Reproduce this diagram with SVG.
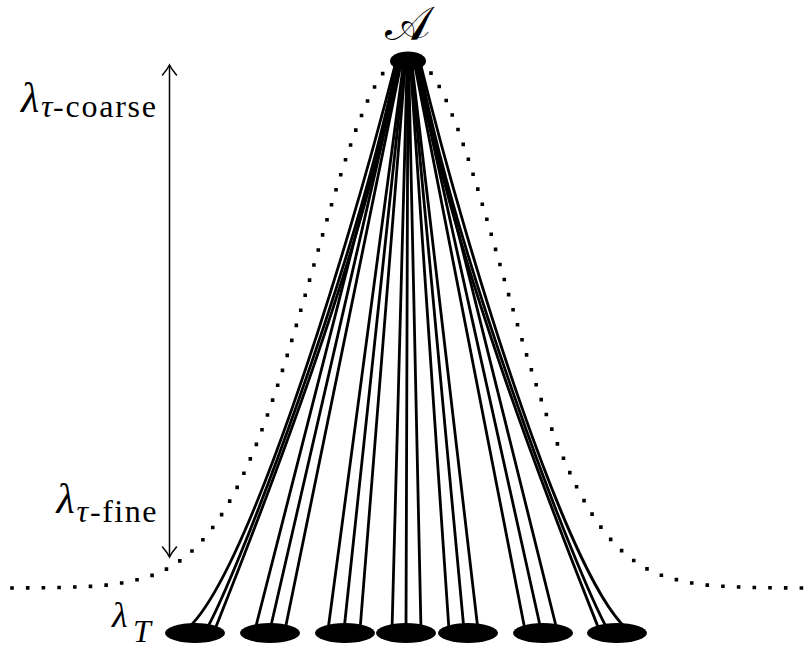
<svg xmlns="http://www.w3.org/2000/svg" width="812" height="652" viewBox="0 0 812 652">
  <style>
    .lbl { font-family: "Liberation Serif", "DejaVu Serif", serif; fill: #000; }
    .it { font-style: italic; }
    .edge { fill: none; stroke: #000; stroke-width: 2.8; stroke-linecap: round; }
    .node { fill: #000; }
    .dots { fill: none; stroke: #000; stroke-width: 3.6; stroke-dasharray: 0 15.7; stroke-linecap: square; }
    .dim { fill: none; stroke: #000; stroke-width: 1.5; }
  </style>
  <defs>
    <marker id="tip" markerUnits="userSpaceOnUse" orient="auto-start-reverse" refX="0" refY="0" markerWidth="20" markerHeight="20" overflow="visible">
      <path d="M-10,-7 C-6,-3.5 -2,-1 0,0 C-2,1 -6,3.5 -10,7" fill="none" stroke="#000" stroke-width="1.5" stroke-linecap="round"/>
    </marker>
  </defs>
  <rect width="812" height="652" fill="#fff"/>

  <g id="envelope">
    <polyline class="dots" points="12,588 57,587.55 87,586.6 107,585.1 127,582.3 147,577.3 157,573.6 167,568.9 177,563 187,555.5 197,546.4 207,535.2 217,521.9 227,506.1 237,487.7 247,466.7 257,442.9 267,416.4 277,387.4 287,356.2 297,323.2 307,289 317,254.3 327,219.8 337,186.5 347,155.1 357,126.7 367,102.1 377,82 387,67.2 397,58.1 407,55 417,58.1 427,67.2 437,82 447,102.1 457,126.7 467,155.1 477,186.5 487,219.8 497,254.3 507,289 517,323.2 527,356.2 537,387.4 547,416.4 557,442.9 567,466.7 577,487.7 587,506.1 597,521.9 607,535.2 617,546.4 627,555.5 637,563 647,568.9 657,573.6 667,577.3 687,582.3 707,585.1 727,586.6 757,587.55 802,588"/>
  </g>

  <g id="scale">
    <path class="dim" d="M169.5,557 L169.5,65" marker-start="url(#tip)" marker-end="url(#tip)"/>
    <text class="lbl it" x="21" y="112" font-size="42">λ</text>
    <text class="lbl it" x="41" y="117" font-size="32">τ</text>
    <text class="lbl" x="53" y="117" font-size="32" textLength="103" lengthAdjust="spacing">-coarse</text>
    <text class="lbl it" x="56.5" y="513" font-size="42">λ</text>
    <text class="lbl it" x="76.5" y="521.5" font-size="32">τ</text>
    <text class="lbl" x="90" y="521.5" font-size="32" textLength="66.5" lengthAdjust="spacing">-fine</text>
  </g>

  <g id="connectors">
    <path class="edge" d="M395.6,63 C345,262 242,593 182,633"/>
    <path class="edge" d="M396.8,63 C357,262 238,575 205,632"/>
    <path class="edge" d="M397.3,63 C364,262 240,565 214,632"/>
    <path class="edge" d="M399.6,63 L255,630"/>
    <path class="edge" d="M400.4,63 L270,630"/>
    <path class="edge" d="M401.2,63 L285,630"/>
    <path class="edge" d="M403.6,63 L328,630"/>
    <path class="edge" d="M404.5,63 L344,630"/>
    <path class="edge" d="M405.4,63 L360,630"/>
    <path class="edge" d="M407.1,63 L392,630"/>
    <path class="edge" d="M407.9,63 L406,630"/>
    <path class="edge" d="M408.7,63 L421,630"/>
    <path class="edge" d="M410.3,63 L449,630"/>
    <path class="edge" d="M411.1,63 L464,630"/>
    <path class="edge" d="M411.8,63 L478,630"/>
    <path class="edge" d="M414.4,63 L525,630"/>
    <path class="edge" d="M415.3,63 L541,630"/>
    <path class="edge" d="M416.1,63 L557,630"/>
    <path class="edge" d="M418.6,63 C450,262 574,565 600,632"/>
    <path class="edge" d="M419.1,63 C457,262 576,575 609,632"/>
    <path class="edge" d="M420.3,63 C469,262 572,593 632,633"/>
  </g>

  <g id="node-A">
    <ellipse class="node" cx="408" cy="61" rx="18" ry="9.5"/>
    <text class="lbl" x="407.5" y="40" font-size="48" text-anchor="middle" font-family="DejaVu Serif, DejaVu Sans, serif">𝒜</text>
  </g>
  <g id="node-T1"><ellipse class="node" cx="195" cy="633" rx="30" ry="10"/></g>
  <g id="node-T2"><ellipse class="node" cx="270" cy="633" rx="30" ry="10"/></g>
  <g id="node-T3"><ellipse class="node" cx="345" cy="633" rx="30" ry="10"/></g>
  <g id="node-T4"><ellipse class="node" cx="406" cy="633" rx="30" ry="10"/></g>
  <g id="node-T5"><ellipse class="node" cx="468" cy="633" rx="30" ry="10"/></g>
  <g id="node-T6"><ellipse class="node" cx="543" cy="633" rx="30" ry="10"/></g>
  <g id="node-T7"><ellipse class="node" cx="617" cy="633" rx="30" ry="10"/></g>

  <g id="label-T">
    <text class="lbl it" x="112" y="627" font-size="36">λ</text>
    <text class="lbl it" x="133" y="641.5" font-size="32">T</text>
  </g>
</svg>
